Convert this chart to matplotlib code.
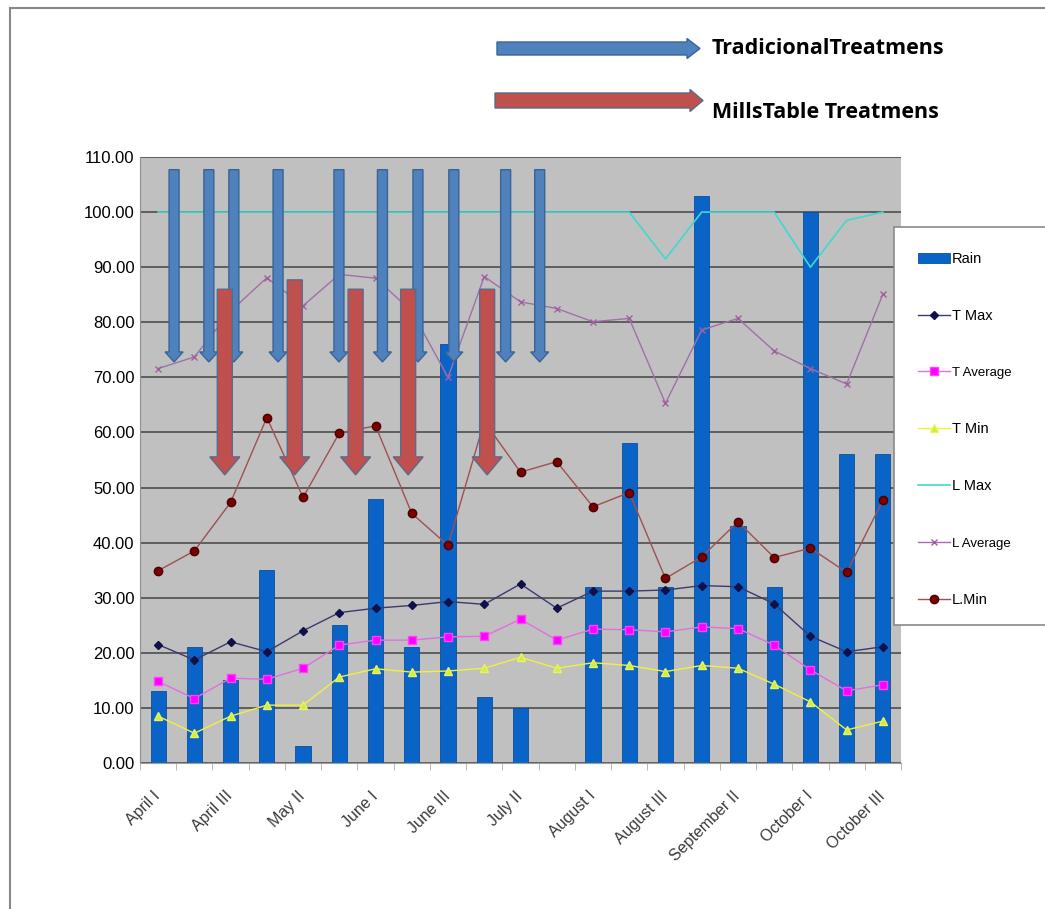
#!/usr/bin/env python

import matplotlib
matplotlib.use("Agg")
import matplotlib.pyplot as plt
from matplotlib.patches import FancyArrow, Rectangle
from matplotlib.lines import Line2D
import numpy as np

# ten-day periods, April to October
periods = ["April I", "April II", "April III", "May I", "May II", "May III",
           "June I", "June II", "June III", "July I", "July II", "July III",
           "August I", "August II", "August III", "September I", "September II",
           "September III", "October I", "October II", "October III"]

rain = [13, 21, 15, 35, 3, 25, 48, 21, 76, 12, 10, 0, 32, 58, 32, 103, 43, 32, 100, 56, 56]
t_max = [21.5, 18.7, 22.0, 20.2, 24.0, 27.3, 28.1, 28.6, 29.3, 28.8, 32.5,
         28.1, 31.2, 31.2, 31.4, 32.2, 32.0, 28.9, 23.0, 20.2, 21.1]
t_avg = [14.8, 11.7, 15.4, 15.2, 17.2, 21.4, 22.3, 22.3, 22.9, 23.0, 26.1,
         22.3, 24.3, 24.2, 23.8, 24.7, 24.4, 21.4, 16.9, 13.1, 14.2]
t_min = [8.5, 5.4, 8.5, 10.5, 10.5, 15.6, 17.1, 16.5, 16.7, 17.2, 19.2,
         17.2, 18.2, 17.7, 16.6, 17.7, 17.2, 14.3, 11.1, 6.0, 7.6]
l_max = [100, 100, 100, 100, 100, 100, 100, 100, 100, 100, 100,
         100, 100, 100, 91.5, 100, 100, 100, 90, 98.5, 100]
l_avg = [71.6, 73.7, 82.0, 88.1, 83.0, 88.7, 88.0, 82.0, 70.0, 88.3, 83.7,
         82.5, 80.1, 80.7, 65.3, 78.6, 80.7, 74.8, 71.6, 68.8, 85.1]
l_min = [34.9, 38.5, 47.3, 62.7, 48.2, 59.9, 61.2, 45.3, 39.5, 62.0, 52.8,
         54.7, 46.5, 49.1, 33.5, 37.4, 43.8, 37.3, 39.0, 34.6, 47.7]

# treatment dates (in period units) and the span of each arrow
trad_at = [0.44, 1.40, 2.09, 3.31, 4.99, 6.19, 7.17, 8.16, 9.59, 10.53]
trad_from, trad_to = 107.7, 72.8
mills_at = [1.84, 3.77, 5.45, 6.90, 9.08]
mills_from = [86.0, 87.7, 86.0, 86.0, 86.0]
mills_to = 52.3

W, H = 1045, 909
fig = plt.figure(figsize=(W / 100, H / 100), dpi=100)
fig.patch.set_facecolor("white")
ax = fig.add_axes([140 / W, 1 - 763 / H, (901 - 140) / W, (763 - 157) / H])
ax.set_facecolor("#c0c0c0")

x = np.arange(len(periods))
ax.bar(x, rain, width=0.42, color="#0a64c8", edgecolor="#0a4f9a", linewidth=0.6,
       zorder=2, label="Rain")

ax.plot(x, t_max, color="#3a3a70", lw=1.0, marker="D", ms=4,
        mfc="#10104a", mec="#10104a", zorder=4, label="T Max")
ax.plot(x, t_avg, color="#e070e0", lw=1.0, marker="s", ms=6,
        mfc="#ff00ff", mec="#ff40ff", zorder=4, label="T Average")
ax.plot(x, t_min, color="#f0f040", lw=1.0, marker="^", ms=6,
        mfc="#c8f040", mec="#f0f060", zorder=4, label="T Min")
ax.plot(x, l_max, color="#40d8d0", lw=1.2, zorder=3, label="L Max")
ax.plot(x, l_avg, color="#a070a8", lw=1.0, marker="x", ms=4,
        mec="#a060a0", zorder=3, label="L Average")
ax.plot(x, l_min, color="#a05050", lw=1.0, marker="o", ms=6,
        mfc="#7a0000", mec="#4a0000", zorder=4, label="L.Min")

# treatment arrows
px_x = 36.25   # pixels per period
px_y = 5.51    # pixels per unit
for xa in trad_at:
    ax.add_patch(FancyArrow(xa, trad_from, 0, trad_to - trad_from,
                            width=10 / px_x, head_width=18 / px_x,
                            head_length=10 / px_y, length_includes_head=True,
                            fc="#4f81bd", ec="#3a6496", lw=1, zorder=5))
for xa, y0 in zip(mills_at, mills_from):
    ax.add_patch(FancyArrow(xa, y0, 0, mills_to - y0,
                            width=15 / px_x, head_width=30 / px_x,
                            head_length=18 / px_y, length_includes_head=True,
                            fc="#c0504d", ec="#5a6a8a", lw=1, zorder=5))

ax.set_xlim(-0.5, len(periods) - 0.5)
ax.set_ylim(0, 110)
ax.set_yticks(np.arange(0, 111, 10))
ax.set_yticklabels([f"{v:.2f}" for v in np.arange(0, 111, 10)],
                   fontsize=12, family="Liberation Sans")
ax.tick_params(axis="y", length=0, pad=4)
ax.yaxis.grid(True, color="#444444", lw=1.1, zorder=1)
ax.set_axisbelow(True)

ax.set_xticks(x[::2])
ax.set_xticklabels(periods[::2], rotation=45, ha="right", va="center",
                   rotation_mode="anchor", fontsize=11.5, color="#3a3a3a",
                   family="Liberation Sans")
ax.set_xticks(np.arange(-0.5, len(periods), 1), minor=True)
ax.tick_params(axis="x", which="major", length=0, pad=22)
ax.tick_params(axis="x", which="minor", length=5, color="#b8a890")

for side in ["top", "right"]:
    ax.spines[side].set_visible(False)
ax.spines["left"].set_color("#909090")
ax.spines["bottom"].set_color("#a0a0a0")

# legend box, running off the right edge
fig.patches.append(Rectangle((894 / W, 1 - 625 / H), 0.3, (625 - 227) / H,
                             transform=fig.transFigure, fc="white",
                             ec="#8a8a8a", lw=1.2, zorder=2))
handles, labels = ax.get_legend_handles_labels()
order = [6, 0, 1, 2, 3, 4, 5]   # bars first
leg = fig.legend([handles[i] for i in order], [labels[i] for i in order],
                 loc="upper left", bbox_to_anchor=(905 / W, 1 - 239 / H),
                 frameon=False, labelspacing=2.95, handlelength=2.2,
                 handletextpad=0.1, prop={"family": "Liberation Sans", "size": 10.5})
for t in leg.get_texts():
    if "Average" in t.get_text():
        t.set_fontsize(9.5)

# key arrows above the chart
fig.patches.append(FancyArrow(497 / W, 1 - 48.5 / H, 203 / W, 0,
                              width=13 / H, head_width=20 / H, head_length=13 / W,
                              length_includes_head=True, transform=fig.transFigure,
                              fc="#4f81bd", ec="#3a6496", lw=1))
fig.patches.append(FancyArrow(495 / W, 1 - 100.5 / H, 208 / W, 0,
                              width=15 / H, head_width=22 / H, head_length=13 / W,
                              length_includes_head=True, transform=fig.transFigure,
                              fc="#c0504d", ec="#5a6a8a", lw=1))
fig.text(712 / W, 1 - 49 / H, "TradicionalTreatmens", fontsize=15.5,
         fontweight="bold", family="Open Sans", va="center")
fig.text(712 / W, 1 - 113 / H, "MillsTable Treatmens", fontsize=15.5,
         fontweight="bold", family="Open Sans", va="center")

# outer chart border (left and top edges)
fig.lines.append(Line2D([9.5 / W, 9.5 / W], [0, 1 - 7.5 / H], transform=fig.transFigure,
                        color="#888888", lw=1.5))
fig.lines.append(Line2D([9.5 / W, 1], [1 - 7.5 / H, 1 - 7.5 / H], transform=fig.transFigure,
                        color="#888888", lw=1.5))

fig.savefig("out.png", dpi=100)
